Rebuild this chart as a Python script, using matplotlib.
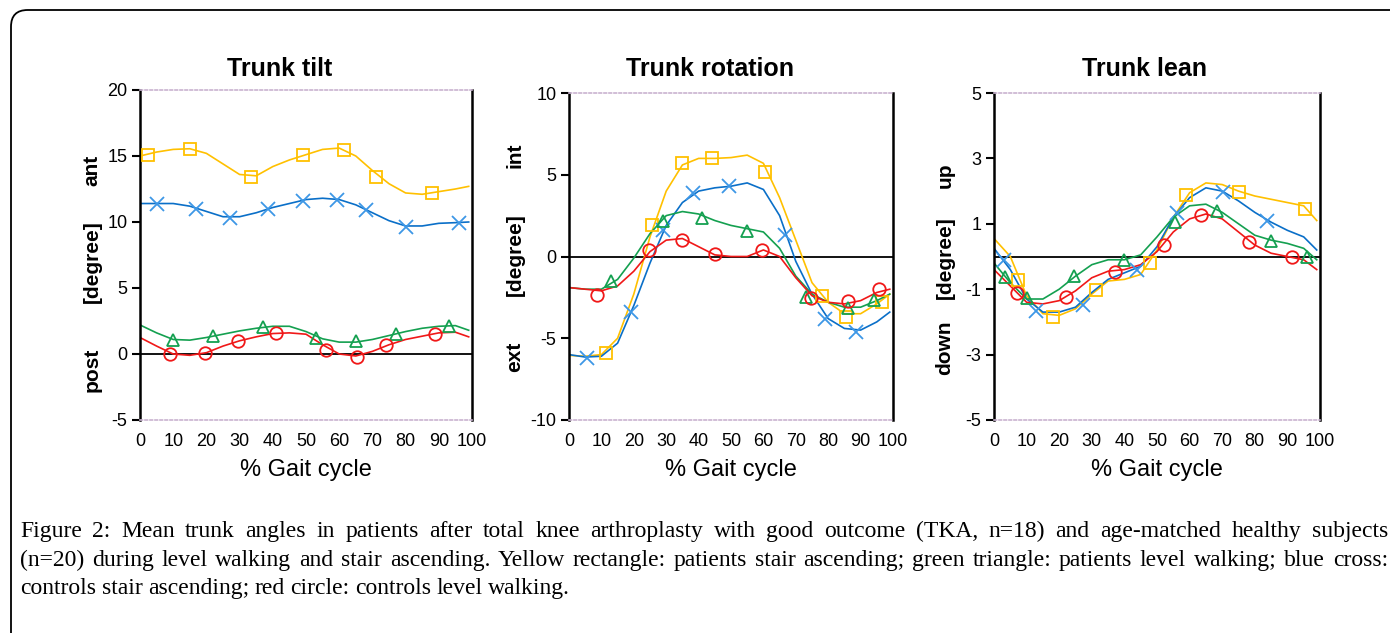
import numpy as np
import matplotlib.pyplot as plt
from matplotlib.patches import FancyBboxPatch

# % gait cycle sample points of the mean curves
gait_x = [0, 5, 10, 15, 20, 25, 30, 35, 40, 45, 50, 55, 60, 65, 70, 75, 80, 85, 90, 95, 99]

# ---- Trunk tilt ----
tilt_yellow = [15.0, 15.3, 15.5, 15.55, 15.2, 14.4, 13.6, 13.5, 14.2, 14.7, 15.1, 15.5, 15.6, 15.0, 13.9, 12.9, 12.2, 12.1, 12.3, 12.5, 12.7]
tilt_blue = [11.4, 11.4, 11.4, 11.2, 10.8, 10.4, 10.4, 10.7, 11.1, 11.4, 11.7, 11.8, 11.7, 11.3, 10.7, 10.1, 9.7, 9.7, 9.9, 9.95, 10.0]
tilt_green = [2.2, 1.6, 1.1, 1.05, 1.25, 1.5, 1.75, 1.95, 2.1, 2.1, 1.7, 1.15, 0.9, 0.9, 1.1, 1.4, 1.7, 1.95, 2.1, 2.15, 1.8]
tilt_red = [1.25, 0.6, 0.0, -0.1, 0.1, 0.6, 1.0, 1.3, 1.55, 1.6, 1.5, 0.7, 0.0, -0.15, 0.2, 0.7, 1.1, 1.35, 1.6, 1.65, 1.3]
tilt_yellow_mx = [2.5, 15, 33.4, 49, 61.3, 71, 88]
tilt_yellow_my = [15.1, 15.5, 13.4, 15.1, 15.45, 13.4, 12.2]
tilt_blue_mx = [5, 17, 27, 38.7, 49, 59.3, 68, 80, 96]
tilt_blue_my = [11.4, 11.0, 10.3, 11.0, 11.6, 11.7, 10.9, 9.65, 9.95]
tilt_green_mx = [10, 22, 37, 53, 65, 77, 93]
tilt_green_my = [1.05, 1.35, 2.05, 1.2, 0.95, 1.55, 2.1]
tilt_red_mx = [9, 19.5, 29.5, 41, 56, 65.5, 74, 89]
tilt_red_my = [0.0, 0.05, 1.0, 1.6, 0.3, -0.2, 0.65, 1.5]

# ---- Trunk rotation ----
rot_yellow = [-6.05, -6.1, -6.0, -5.0, -2.3, 1.2, 4.0, 5.6, 6.0, 6.0, 6.05, 6.2, 5.7, 3.6, 1.0, -1.6, -2.8, -3.5, -3.5, -2.9, -2.3]
rot_blue = [-6.0, -6.15, -6.1, -5.3, -3.0, -0.4, 1.9, 3.3, 4.0, 4.2, 4.3, 4.5, 4.1, 2.5, -0.3, -2.3, -3.8, -4.4, -4.5, -4.0, -3.4]
rot_green = [-1.9, -2.0, -2.0, -1.4, -0.1, 1.4, 2.5, 2.75, 2.6, 2.2, 1.9, 1.7, 1.5, 0.5, -1.2, -2.3, -2.8, -3.1, -3.1, -2.7, -2.3]
rot_red = [-1.9, -2.0, -2.1, -1.8, -0.9, 0.3, 1.0, 1.1, 0.6, 0.1, 0.0, 0.0, 0.4, 0.0, -1.3, -2.4, -2.8, -2.9, -2.7, -2.2, -2.0]
rot_yellow_mx = [11.4, 25.5, 35, 44, 60.6, 78, 85.6, 96.7]
rot_yellow_my = [-5.9, 1.9, 5.7, 6.0, 5.15, -2.4, -3.7, -2.8]
rot_blue_mx = [5.5, 19, 29, 38.3, 49.4, 66.6, 79, 88.6]
rot_blue_my = [-6.2, -3.4, 1.6, 3.9, 4.3, 1.3, -3.8, -4.6]
rot_green_mx = [13, 29, 41, 54.8, 73, 86, 94]
rot_green_my = [-1.5, 2.15, 2.35, 1.55, -2.45, -3.15, -2.65]
rot_red_mx = [8.5, 24.7, 35, 45, 59.7, 74.8, 86, 95.7]
rot_red_my = [-2.35, 0.4, 1.0, 0.15, 0.4, -2.55, -2.75, -2.0]

# ---- Trunk lean ----
lean_yellow = [0.55, 0.0, -1.2, -1.75, -1.8, -1.6, -1.15, -0.75, -0.7, -0.55, 0.2, 1.2, 1.95, 2.25, 2.2, 2.0, 1.85, 1.75, 1.65, 1.55, 1.1]
lean_blue = [0.25, -0.4, -1.3, -1.7, -1.7, -1.55, -1.1, -0.7, -0.5, -0.3, 0.3, 1.2, 1.8, 2.1, 2.0, 1.7, 1.35, 1.05, 0.8, 0.6, 0.2]
lean_green = [-0.2, -0.8, -1.3, -1.3, -1.0, -0.6, -0.25, -0.1, -0.1, 0.05, 0.6, 1.2, 1.55, 1.6, 1.35, 1.0, 0.65, 0.5, 0.4, 0.25, -0.1]
lean_red = [-0.4, -0.9, -1.4, -1.45, -1.35, -1.05, -0.65, -0.45, -0.4, -0.25, 0.15, 0.75, 1.15, 1.3, 1.15, 0.75, 0.35, 0.1, 0.0, -0.1, -0.4]
lean_yellow_mx = [7.5, 18, 31.2, 48, 59, 75.3, 95.4]
lean_yellow_my = [-0.71, -1.84, -1.02, -0.2, 1.87, 1.96, 1.45]
lean_blue_mx = [3, 13, 27.4, 43.8, 56, 70.3, 83.6]
lean_blue_my = [-0.1, -1.68, -1.48, -0.4, 1.33, 1.96, 1.1]
lean_green_mx = [3.4, 10, 24.6, 40, 55.5, 68.3, 85, 96]
lean_green_my = [-0.63, -1.28, -0.61, -0.1, 1.07, 1.38, 0.48, 0.0]
lean_red_mx = [7, 22, 37, 52, 63.5, 78.2, 91.3]
lean_red_my = [-1.12, -1.24, -0.46, 0.36, 1.28, 0.43, -0.02]

titles = ['Trunk tilt', 'Trunk rotation', 'Trunk lean']
upper_words = ['ant', 'int', 'up']
lower_words = ['post', 'ext', 'down']
xtick_vals = [0, 10, 20, 30, 40, 50, 60, 70, 80, 90, 100]

W, H = 1390, 633
fig = plt.figure(figsize=(W / 100, H / 100), dpi=100)

sans = ['Liberation Sans', 'DejaVu Sans']

# rounded frame around the whole figure (runs off right/bottom edge)
frame = FancyBboxPatch((11 / W, -0.1), 1.2, (H - 10) / H + 0.1,
                       boxstyle='round,pad=0,rounding_size=0.012',
                       transform=fig.transFigure, fill=False,
                       edgecolor='black', linewidth=1.3, mutation_aspect=W / H)
fig.patches.append(frame)

col_y = '#FFC000'
col_b = '#0A6FC8'
col_bm = '#3D97E6'
col_g = '#14A050'
col_r = '#F01818'


def px_box(l, r, t, b):
    return [l / W, (H - b) / H, (r - l) / W, (b - t) / H]


panels = [
    dict(box=px_box(140, 472, 90, 420), ylim=(-5, 20), yticks=[-5, 0, 5, 10, 15, 20],
         curves=[(tilt_yellow, tilt_yellow_mx, tilt_yellow_my),
                 (tilt_blue, tilt_blue_mx, tilt_blue_my),
                 (tilt_green, tilt_green_mx, tilt_green_my),
                 (tilt_red, tilt_red_mx, tilt_red_my)],
         title_x=280, lab_x=92, lab_y=(170, 262, 370)),
    dict(box=px_box(569, 893, 93, 420), ylim=(-10, 10), yticks=[-10, -5, 0, 5, 10],
         curves=[(rot_yellow, rot_yellow_mx, rot_yellow_my),
                 (rot_blue, rot_blue_mx, rot_blue_my),
                 (rot_green, rot_green_mx, rot_green_my),
                 (rot_red, rot_red_mx, rot_red_my)],
         title_x=710, lab_x=515, lab_y=(155, 255, 357)),
    dict(box=px_box(994, 1320, 93, 420), ylim=(-5, 5), yticks=[-5, -3, -1, 1, 3, 5],
         curves=[(lean_yellow, lean_yellow_mx, lean_yellow_my),
                 (lean_blue, lean_blue_mx, lean_blue_my),
                 (lean_green, lean_green_mx, lean_green_my),
                 (lean_red, lean_red_mx, lean_red_my)],
         title_x=1145, lab_x=945, lab_y=(175, 258, 348)),
]

styles = [
    dict(color=col_y, marker='s', mec=col_y, ms=9),
    dict(color=col_b, marker='x', mec=col_bm, ms=10),
    dict(color=col_g, marker='^', mec=col_g, ms=9),
    dict(color=col_r, marker='o', mec=col_r, ms=9),
]

for i, p in enumerate(panels):
    ax = fig.add_axes(p['box'])
    ax.axhline(0, color='black', lw=1.3, zorder=1)
    for (yy, mx, my), st in zip(p['curves'], styles):
        ax.plot(gait_x, yy, color=st['color'], lw=1.2, zorder=2)
        ax.plot(mx, my, ls='none', marker=st['marker'], ms=st['ms'],
                mfc='none', mec=st['mec'], mew=1.3, zorder=3)
    ax.set_xlim(0, 100)
    ax.set_ylim(*p['ylim'])
    ax.set_xticks(xtick_vals)
    ax.set_yticks(p['yticks'])
    ax.set_xticklabels([str(v) for v in xtick_vals], family=sans, fontsize=13)
    ax.set_yticklabels([str(v) for v in p['yticks']], family=sans, fontsize=13)
    ax.tick_params(axis='x', length=0, pad=9)
    ax.tick_params(axis='y', length=6, width=1.5, pad=3, direction='out')
    for s in ['left', 'right']:
        ax.spines[s].set_linewidth(1.8)
        ax.spines[s].set_color('black')
    for s in ['top', 'bottom']:
        ax.spines[s].set_linewidth(1.2)
        ax.spines[s].set_color('#c9b3d0')
        ax.spines[s].set_linestyle((0, (1.5, 1.5)))
    ax.set_xlabel('% Gait cycle', family=sans, fontsize=17, labelpad=7)

    fig.text(p['title_x'] / W, (H - 76) / H, titles[i], ha='center', va='baseline',
             fontsize=18, fontweight='bold', family=sans)
    for word, yy in zip([upper_words[i], '[degree]', lower_words[i]], p['lab_y']):
        fig.text(p['lab_x'] / W, (H - yy) / H, word, rotation=90, ha='center', va='center',
                 fontsize=15, fontweight='bold', family=sans)

# caption, first two lines justified
caption_lines = [
    'Figure 2: Mean trunk angles in patients after total knee arthroplasty with good outcome (TKA, n=18) and age-matched healthy subjects',
    '(n=20) during level walking and stair ascending. Yellow rectangle: patients stair ascending; green triangle: patients level walking; blue cross:',
    'controls stair ascending; red circle: controls level walking.',
]
baselines = [537, 566, 594]
x0, x1 = 20, 1388
renderer = fig.canvas.get_renderer()
for k, (line, yb) in enumerate(zip(caption_lines, baselines)):
    words = line.split(' ')
    texts = [fig.text(0, (H - yb) / H, w, ha='left', va='baseline', fontsize=17,
                      family=['Liberation Serif', 'DejaVu Serif']) for w in words]
    widths = [t.get_window_extent(renderer).width for t in texts]
    if k < 2:
        gap = (x1 - x0 - sum(widths)) / (len(words) - 1)
    else:
        gap = 5.5
    x = x0
    for t, wd in zip(texts, widths):
        t.set_x(x / W)
        x += wd + gap

fig.savefig('out.png', dpi=100)
